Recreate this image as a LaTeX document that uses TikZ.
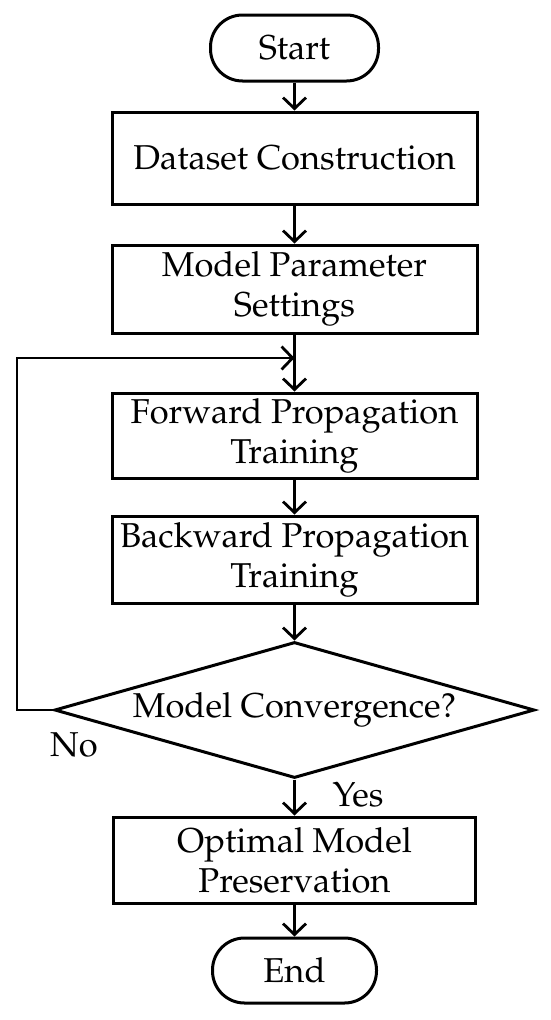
\documentclass[tikz,border=0pt]{standalone}
\usepackage[T1]{fontenc}
\usepackage{mathpazo}
\usetikzlibrary{arrows.meta,shapes.geometric}
\newcommand\figfont{\fontsize{34.5}{40}\selectfont}
\begin{document}
\begin{tikzpicture}[x=1pt,y=-1pt,
  box/.style={draw,line width=3pt,minimum width=365pt,inner sep=0pt,align=center,font=\figfont},
  term/.style={draw,line width=3pt,rounded corners=32pt,inner sep=0pt,font=\figfont},
  dia/.style={draw,diamond,line width=3pt,aspect=3.5,inner sep=0pt,minimum width=480pt,minimum height=136pt,font=\figfont},
  arr/.style={line width=2.8pt,-{Straight Barb[length=11pt,width=23pt]}},
  lbl/.style={font=\figfont}]
\useasboundingbox (0,0) rectangle (550,1020);
\node[term,minimum width=168pt,minimum height=66pt] (start) at (294.5,48) {Start};
\node[box,minimum height=92pt] (ds) at (294.5,158) {Dataset Construction};
\node[box,minimum height=88pt] (mp) at (294.5,289) {Model Parameter\\Settings};
\node[box,minimum height=85pt] (fp) at (294.5,435.5) {Forward Propagation\\Training};
\node[box,minimum height=87pt] (bp) at (294.5,559.5) {Backward Propagation\\Training};
\node[dia] (dc) at (294.5,710) {Model Convergence?};
\node[box,minimum width=362pt,minimum height=86pt] (op) at (294.5,860) {Optimal Model\\Preservation};
\node[term,minimum width=164pt,minimum height=65pt] (end) at (294.5,970.5) {End};
\node[lbl] (no) at (74,745) {No};
\node[lbl] (yes) at (358,795) {Yes};
\coordinate (lc) at (17,358);
\coordinate (j) at (294.5,358);
\draw[arr] (start) -- (ds);
\draw[arr] (ds) -- (mp);
\draw[arr] (mp) -- (fp);
\draw[arr] (fp) -- (bp);
\draw[arr] (bp) -- (dc);
\draw[arr] (dc) -- (op);
\draw[arr] (op) -- (end);
\draw[arr] (dc.west) -| (lc) -- (j);
\end{tikzpicture}
\end{document}
